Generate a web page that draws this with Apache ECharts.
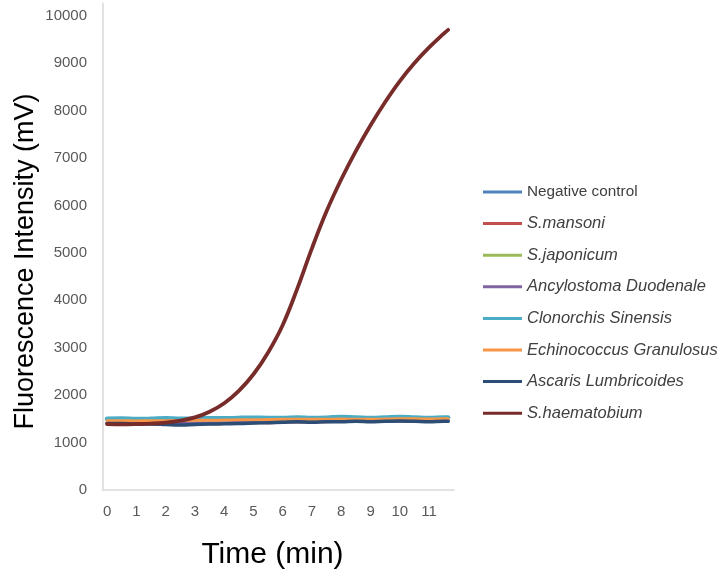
<!DOCTYPE html>
<html>
<head>
<meta charset="utf-8">
<script src="https://cdn.jsdelivr.net/npm/echarts@6/dist/echarts.min.js"></script>
<style>
html,body{margin:0;padding:0;background:#fff;}
#chart{width:724px;height:575px;}
</style>
</head>
<body>
<div id="chart"></div>
<script>
// Time points (min)
const times = [0,0.5,1,1.5,2,2.5,3,3.5,4,4.5,5,5.5,6,6.5,7,7.5,8,8.5,9,9.5,10,10.5,11,11.5,11.65];
const xTickLabels = [0,1,2,3,4,5,6,7,8,9,10,11];
const seriesNames = ['Negative control','S.mansoni','S.japonicum','Ancylostoma Duodenale','Clonorchis Sinensis','Echinococcus Granulosus','Ascaris Lumbricoides','S.haematobium'];
const negativeControl = [1410,1405,1400,1400,1390,1385,1390,1400,1400,1410,1420,1425,1435,1440,1440,1445,1450,1455,1450,1455,1460,1455,1450,1455,1455];
const sMansoni = [1405,1400,1395,1395,1385,1380,1385,1395,1400,1405,1415,1420,1430,1435,1435,1440,1445,1450,1445,1450,1455,1450,1445,1450,1450];
const sJaponicum = [1470,1470,1465,1470,1470,1475,1480,1480,1485,1485,1490,1490,1495,1495,1495,1495,1500,1500,1495,1500,1505,1500,1500,1505,1505];
const ancylostoma = [1420,1420,1415,1415,1410,1405,1410,1415,1420,1425,1430,1435,1440,1445,1445,1450,1455,1455,1455,1460,1460,1460,1455,1460,1460];
const clonorchis = [1500,1505,1495,1500,1510,1500,1505,1515,1510,1520,1525,1520,1520,1530,1520,1525,1540,1530,1520,1530,1540,1530,1520,1530,1530];
const echinococcus = [1460,1460,1455,1460,1460,1465,1470,1470,1475,1480,1480,1485,1490,1490,1490,1490,1495,1490,1490,1495,1500,1500,1495,1500,1500];
const ascaris = [1400,1400,1390,1390,1380,1370,1380,1390,1395,1400,1410,1420,1430,1440,1430,1440,1440,1450,1440,1450,1455,1450,1440,1450,1450];
const sHaematobium = [1390,1385,1390,1400,1420,1460,1530,1650,1830,2090,2440,2900,3480,4250,5100,5880,6550,7150,7690,8180,8620,9000,9330,9620,9700];

const colors = ['#4F81BD','#C0504D','#9BBB59','#8064A2','#4BACC6','#F79646','#2C4D75','#772C2A'];
const widths = [3,3,3,3,4.5,3,3.5,3.8];
const allData = [negativeControl,sMansoni,sJaponicum,ancylostoma,clonorchis,echinococcus,ascaris,sHaematobium];

const chart = echarts.init(document.getElementById('chart'), null, {renderer:'canvas'});
const series = seriesNames.map((name,i)=>({
  name: name,
  type: 'line',
  data: times.map((t,j)=>[t, allData[i][j]]),
  showSymbol: false,
  symbol: 'none',
  smooth: 0.4,
  lineStyle: {color: colors[i], width: widths[i], cap:'round', join:'round'},
  itemStyle: {color: colors[i]},
  z: 2 + i
}));

chart.setOption({
  backgroundColor: '#fff',
  animation: false,
  grid: {left: 103, top: 3, width: 351, height: 502, containLabel: false},
  xAxis: {
    type: 'value',
    min: -0.14,
    max: 11.85,
    name: 'Time (min)',
    nameLocation: 'middle',
    nameGap: 50,
    nameTextStyle: {fontFamily: 'Liberation Sans', fontSize: 30, color: '#000', padding: [0, 12, 0, 0]},
    axisLine: {show: true, onZero: false, lineStyle: {color: '#d9d9d9', width: 1.5}},
    axisTick: {show: false},
    splitLine: {show: false},
    axisLabel: {
      customValues: xTickLabels,
      margin: 14,
      fontFamily: 'Liberation Sans',
      fontSize: 15,
      color: '#595959'
    }
  },
  yAxis: {
    type: 'value',
    min: 0,
    max: 10266,
    interval: 1000,
    name: 'Fluorescence Intensity (mV)',
    nameLocation: 'middle',
    nameGap: 64,
    nameTextStyle: {fontFamily: 'Liberation Sans', fontSize: 27, color: '#000', padding: [0, 30, 0, 0]},
    axisLine: {show: true, onZero: false, lineStyle: {color: '#d9d9d9', width: 1.5}},
    axisTick: {show: false},
    splitLine: {show: false},
    axisLabel: {
      margin: 16,
      fontFamily: 'Liberation Sans',
      fontSize: 15,
      color: '#595959',
      showMaxLabel: false,
      formatter: function(v){ return String(v); }
    }
  },
  legend: {
    orient: 'vertical',
    left: 483,
    top: 183,
    padding: 0,
    itemWidth: 39,
    itemHeight: 3,
    itemGap: 13.6,
    icon: 'rect',
    data: seriesNames,
    formatter: function(name){
      return name === 'Negative control' ? '{n|' + name + '}' : '{i|' + name + '}';
    },
    textStyle: {
      color: '#404040',
      lineHeight: 18,
      rich: {
        n: {fontFamily: 'Liberation Sans', fontSize: 15.3, fontStyle: 'normal', color: '#404040', lineHeight: 18},
        i: {fontFamily: 'Liberation Sans', fontSize: 16.5, fontStyle: 'italic', color: '#404040', lineHeight: 18}
      }
    }
  },
  series: series
});
</script>
</body>
</html>
